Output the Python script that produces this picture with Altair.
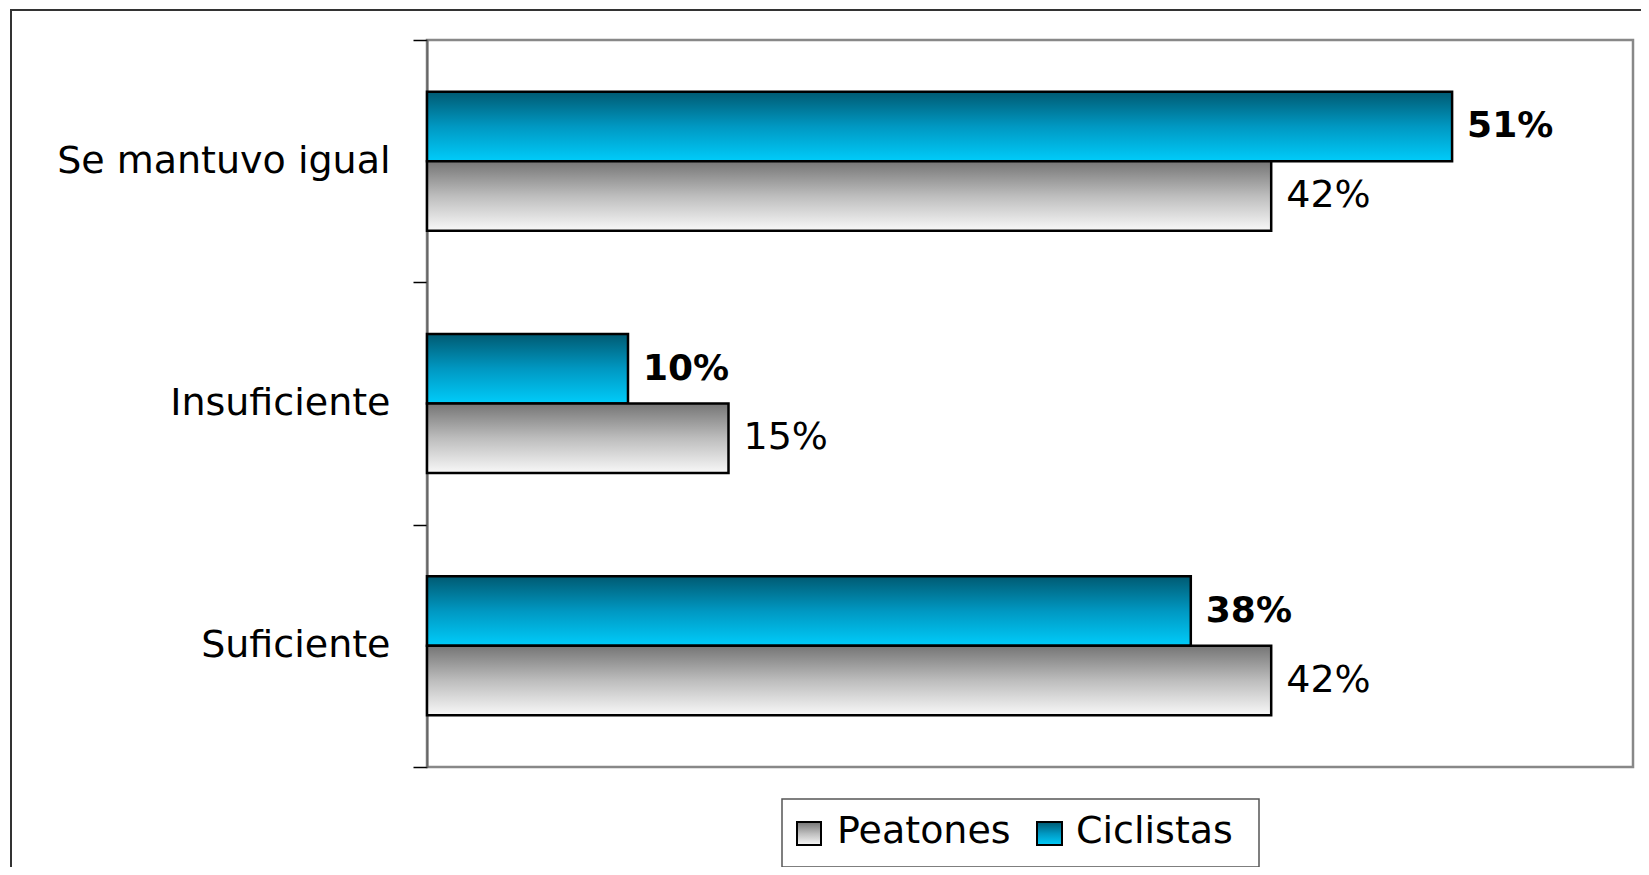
import altair as alt
import pandas as pd

categories = ["Se mantuvo igual", "Insuficiente", "Suficiente"]
series = ["Peatones", "Ciclistas"]
peatones = [42, 15, 42]
ciclistas = [51, 10, 38]

rows = []
for c, p, k in zip(categories, peatones, ciclistas):
    rows.append({"category": c, "series": "Ciclistas", "value": k})
    rows.append({"category": c, "series": "Peatones", "value": p})
df = pd.DataFrame(rows)
df["label"] = df["value"].astype(str) + "%"
legend_df = pd.DataFrame({"series": series})

FONT = "DejaVu Sans"

grad_cyan = {
    "gradient": "linear", "x1": 0, "x2": 0, "y1": 0, "y2": 1,
    "stops": [
        {"offset": 0, "color": "#005a72"},
        {"offset": 0.5, "color": "#0098c2"},
        {"offset": 1, "color": "#00ccfa"},
    ],
}
grad_gray = {
    "gradient": "linear", "x1": 0, "x2": 0, "y1": 0, "y2": 1,
    "stops": [
        {"offset": 0, "color": "#757575"},
        {"offset": 0.5, "color": "#bdbdbd"},
        {"offset": 1, "color": "#f8f8f8"},
    ],
}

x_enc = alt.X("value:Q", scale=alt.Scale(domain=[0, 60]), axis=None)
y_enc = alt.Y(
    "category:N",
    sort=categories,
    scale=alt.Scale(paddingInner=0, paddingOuter=0),
    axis=alt.Axis(
        title=None,
        labelFont=FONT,
        labelFontSize=38,
        labelColor="black",
        labelPadding=23,
        labelLimit=0,
        tickSize=14,
        tickColor="black",
        tickWidth=1.5,
        tickBand="extent",
        domainColor="#666666",
        domainWidth=2,
        labelExpr="datum.value === 'Suficiente' ? datum.label + '\u00a0' : datum.label",
    ),
)
yoff_enc = alt.YOffset(
    "series:N",
    scale=alt.Scale(domain=["Ciclistas", "Peatones"], paddingInner=0, paddingOuter=0.744),
)

base = alt.Chart(df).encode(x=x_enc, y=y_enc, yOffset=yoff_enc)

bars_c = base.transform_filter(alt.datum.series == "Ciclistas").mark_bar(
    fill=grad_cyan, stroke="black", strokeWidth=2.5
)
bars_p = base.transform_filter(alt.datum.series == "Peatones").mark_bar(
    fill=grad_gray, stroke="black", strokeWidth=2.5
)
text_c = base.transform_filter(alt.datum.series == "Ciclistas").mark_text(
    align="left", baseline="middle", dx=15, font=FONT, fontSize=36, fontWeight="bold", color="black"
).encode(text="label:N")
text_p = base.transform_filter(alt.datum.series == "Peatones").mark_text(
    align="left", baseline="middle", dx=15, font=FONT, fontSize=38, color="black"
).encode(text="label:N")

leg = alt.Chart(legend_df)
outer = leg.transform_filter(alt.datum.series == "Peatones").mark_rect(
    fill=None, stroke="#333333", strokeWidth=2
).encode(x=alt.value(-416), x2=alt.value(1400), y=alt.value(-30), y2=alt.value(1000))
legend_box = leg.transform_filter(alt.datum.series == "Peatones").mark_rect(
    fill="white", stroke="#555555", strokeWidth=1.5
).encode(x=alt.value(355), x2=alt.value(832), y=alt.value(759), y2=alt.value(827))
sym_p = leg.transform_filter(alt.datum.series == "Peatones").mark_rect(
    fill=grad_gray, stroke="black", strokeWidth=2
).encode(x=alt.value(370), x2=alt.value(394), y=alt.value(782), y2=alt.value(805))
sym_c = leg.transform_filter(alt.datum.series == "Ciclistas").mark_rect(
    fill=grad_cyan, stroke="black", strokeWidth=2
).encode(x=alt.value(610), x2=alt.value(635), y=alt.value(782), y2=alt.value(805))
lab_p = leg.transform_filter(alt.datum.series == "Peatones").mark_text(
    align="left", baseline="alphabetic", font=FONT, fontSize=38, color="black"
).encode(x=alt.value(410), y=alt.value(803), text="series:N")
lab_c = leg.transform_filter(alt.datum.series == "Ciclistas").mark_text(
    align="left", baseline="alphabetic", font=FONT, fontSize=38, color="black"
).encode(x=alt.value(649), y=alt.value(803), text="series:N")

chart = alt.layer(
    outer, bars_c, bars_p, text_c, text_p, legend_box, sym_p, sym_c, lab_p, lab_c
).properties(
    width=1206,
    height=727,
    autosize=alt.AutoSizeParams(type="none"),
    padding={"left": 419, "top": 32, "right": 8, "bottom": 100},
    background="white",
).configure_view(stroke="#888888", strokeWidth=2.5)

chart.save("out.html", embed_options={"renderer": "svg", "actions": False})
